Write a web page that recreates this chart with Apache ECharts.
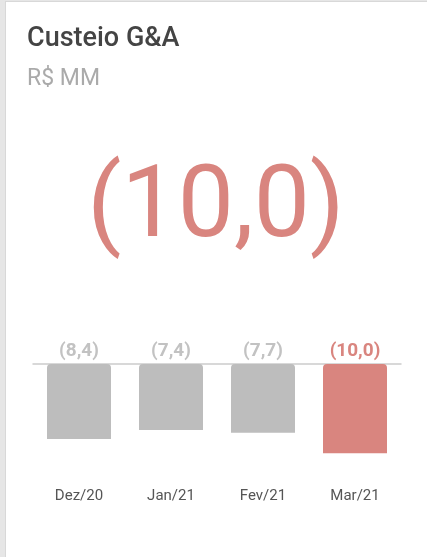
<!DOCTYPE html>
<html>
<head>
<meta charset="utf-8">
<script src="https://cdn.jsdelivr.net/npm/echarts@6/dist/echarts.min.js"></script>
<style>
  html, body { margin: 0; padding: 0; background: #e6e6e6; }
  .card {
    position: absolute; left: 5px; top: 1px; width: 422px; height: 556px;
    background: #fff; border-left: 1px solid #d8d8d8; border-top: 1px solid #d8d8d8;
    box-sizing: border-box;
  }
  #chart { position: absolute; left: 0; top: 0; width: 427px; height: 557px; }
</style>
</head>
<body>
<div class="card"></div>
<div id="chart"></div>
<script>
const months = ['Dez/20', 'Jan/21', 'Fev/21', 'Mar/21']
const custeio = [-8.4, -7.4, -7.7, -10.0]
const titulo = 'Custeio G&A'
const unidade = 'R$ MM'

const grey = '#bdbdbd'
const red = '#d9857f'

// (8,4) estilo contábil, vírgula decimal
const fmt = (v) => {
  const s = Math.abs(v).toFixed(1).replace('.', ',')
  return v < 0 ? '(' + s + ')' : s
}

const last = custeio.length - 1
const chart = echarts.init(document.getElementById('chart'))

chart.setOption({
  backgroundColor: 'transparent',
  animation: false,
  textStyle: { fontFamily: 'Roboto' },
  grid: { left: 33, right: 26, top: 364, bottom: 86 },
  xAxis: [
    {
      type: 'category',
      data: months,
      position: 'bottom',
      axisLine: { show: false, onZero: false },
      axisTick: { show: false },
      axisLabel: { color: '#555', fontSize: 15, margin: 18 }
    },
    {
      type: 'category',
      data: months,
      position: 'top',
      axisLine: { show: true, onZero: false, lineStyle: { color: '#cccccc', width: 1.5 } },
      axisTick: { show: false },
      axisLabel: { show: false }
    }
  ],
  yAxis: {
    type: 'value',
    min: -12,
    max: 0,
    show: false
  },
  series: [
    {
      type: 'bar',
      barWidth: 64,
      data: custeio.map((v, i) => ({
        value: v,
        itemStyle: { color: i === last ? red : grey, borderRadius: [4, 4, 0, 0] },
        label: { color: i === last ? red : '#c2c2c2' }
      })),
      label: {
        show: true,
        position: 'top',
        distance: 3,
        fontSize: 19,
        fontWeight: 'bold',
        formatter: (p) => fmt(p.value)
      }
    }
  ],
  graphic: [
    {
      type: 'text', left: 27, top: 26,
      style: { text: titulo, fill: '#444', font: '500 27px Roboto' }
    },
    {
      type: 'text', left: 27, top: 68,
      style: { text: unidade, fill: '#aaa', font: '400 23px Roboto' }
    },
    {
      type: 'text', x: 216, y: 211,
      style: {
        text: fmt(custeio[last]), fill: red, font: '400 100px Roboto',
        textAlign: 'center', textVerticalAlign: 'middle'
      }
    }
  ]
})
</script>
</body>
</html>
